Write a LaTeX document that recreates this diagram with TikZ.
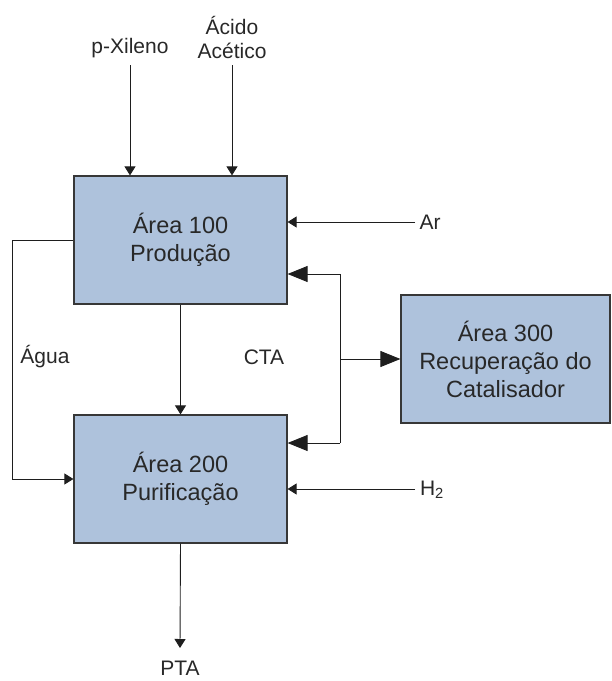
\documentclass[tikz,border=0pt]{standalone}
\usepackage{fontspec}
\setmainfont{Liberation Sans}
\usetikzlibrary{arrows.meta}
\definecolor{boxfill}{RGB}{174,194,220}
\definecolor{boxdraw}{RGB}{55,55,55}
\definecolor{txt}{RGB}{40,40,40}
\definecolor{wire}{RGB}{30,30,30}
\begin{document}
\begin{tikzpicture}[x=1pt,y=-1pt,
  area/.style={draw=boxdraw,line width=1.2pt,fill=boxfill,text=txt,align=center,
    inner sep=0pt,font=\fontsize{23.5}{28}\selectfont},
  lbl/.style={text=txt,align=center,inner sep=0pt,font=\fontsize{21}{24}\selectfont},
  flow/.style={draw=wire,line width=0.9pt,-{Triangle[length=9pt,width=11pt]}},
  bigflow/.style={draw=wire,line width=0.9pt,-{Triangle[length=20pt,width=16pt]}},
  plain/.style={draw=wire,line width=0.9pt}]
\useasboundingbox (0,0) rectangle (612,681);
\node[area,minimum width=213pt,minimum height=128pt] (a100) at (180.5,240) {Área 100\\Produção};
\node[area,minimum width=213pt,minimum height=128pt] (a200) at (180.5,479) {Área 200\\Purificação};
\node[area,minimum width=209pt,minimum height=128pt] (a300) at (505.5,359) {Área 300\\Recuperação do\\Catalisador};
\node[lbl] (px) at (130,48) {p-Xileno};
\node[lbl] (aa) at (232,37) {Ácido\\Acético};
\node[lbl] (ar) at (430,222) {Ar};
\node[lbl] (h2) at (432,490) {H\textsubscript{2}};
\node[lbl] (agua) at (45,357) {Água};
\node[lbl] (cta) at (264,357) {CTA};
\node[lbl] (pta) at (180,668) {PTA};
\coordinate (pxs) at (130,65);
\coordinate (aas) at (232,65);
\coordinate (ars) at (415,222);
\coordinate (h2s) at (415,489);
\coordinate (ptae) at (180,648);
\coordinate (fb) at (340,359);
\draw[flow] (pxs) -- (pxs |- a100.north);
\draw[flow] (aas) -- (aas |- a100.north);
\draw[flow] (ars) -- (ars -| a100.east);
\draw[flow] (h2s) -- (h2s -| a200.east);
\draw[flow] (a100.south) -- (a200.north);
\draw[flow] (a200.south) -- (ptae);
\draw[flow] (a100.west) -- (12,240) -- (12,479) -- (a200.west);
\draw[plain] (340,274) -- (340,443);
\draw[bigflow] (340,274) -- (340,274 -| a100.east);
\draw[bigflow] (340,443) -- (340,443 -| a200.east);
\draw[bigflow] (fb) -- (a300.west);
\end{tikzpicture}
\end{document}
